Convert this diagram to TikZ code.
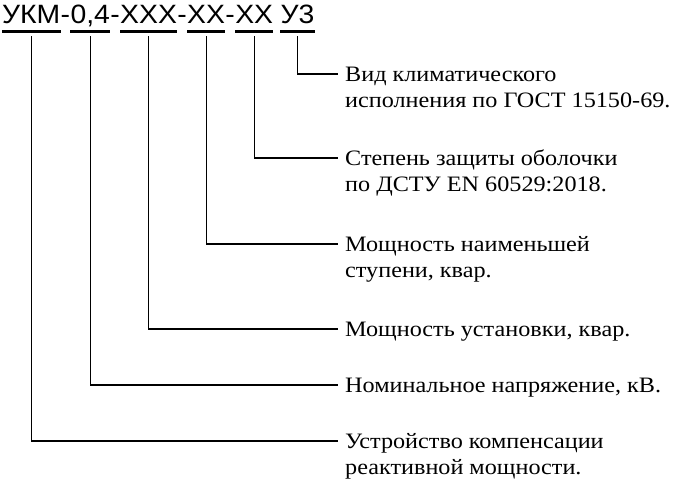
\documentclass[tikz,border=0pt]{standalone}
\usepackage{fontspec}
\setmainfont{Liberation Serif}
\newfontfamily\codefont[FakeStretch=1.07]{Liberation Sans}
\newfontfamily\descfont[FakeStretch=1.1]{Liberation Serif}
\usetikzlibrary{positioning}

\tikzset{
  part/.style={inner sep=0pt, text height=19bp, text depth=0pt, font=\codefont\fontsize{26.5bp}{30bp}\selectfont},
  uline/.style={line width=3bp},
  lead/.style={line width=1.1bp},
  desc/.style={inner ysep=0pt, inner xsep=7bp, text height=14.6bp, text depth=0pt, font=\descfont\fontsize{22bp}{26bp}\selectfont},
}

\begin{document}
\begin{tikzpicture}[x=1bp, y=1bp, node distance=11.4bp]
                \useasboundingbox (0,0) rectangle (685,488);

                \node[part, anchor=south west] (ukm) at (2,464.7) {УКМ};
                \node[part, right=0pt of ukm] (h1)   {-};
                \node[part, right=0pt of h1]  (nv)   {0,4};
                \node[part, right=0pt of nv]  (h2)   {-};
                \node[part, right=0pt of h2]  (qust) {ХХХ};
                \node[part, right=0pt of qust] (h3)  {-};
                \node[part, right=0pt of h3]  (qst)  {ХХ};
                \node[part, right=0pt of qst] (h4)   {-};
                \node[part, right=0pt of h4]  (ip)   {ХХ};
                \node[part, right=7bp of ip]  (klim) {У3};

                \draw[uline] ([yshift=-8bp]ukm.south west)  -- ([yshift=-8bp]ukm.south east);
                \draw[uline] ([yshift=-8bp]nv.south west)   -- ([yshift=-8bp]nv.south east);
                \draw[uline] ([yshift=-8bp]qust.south west) -- ([yshift=-8bp]qust.south east);
                \draw[uline] ([yshift=-8bp]qst.south west)  -- ([yshift=-8bp]qst.south east);
                \draw[uline] ([yshift=-8bp]ip.south west)   -- ([yshift=-8bp]ip.south east);
                \draw[uline] ([yshift=-8bp]klim.south west) -- ([yshift=-8bp]klim.south east);

                \node[desc, anchor=west] (vid) at (338,414) {Вид климатического};
                \node[desc, below=of vid.south west, anchor=north west] (vida) {исполнения по ГОСТ 15150-69.};
                \node[desc, anchor=west] (zash) at (338,330) {Степень защиты оболочки};
                \node[desc, below=of zash.south west, anchor=north west] (zasha) {по ДСТУ EN 60529:2018.};
                \node[desc, anchor=west] (stup) at (338,244) {Мощность наименьшей};
                \node[desc, below=of stup.south west, anchor=north west] (stupa) {ступени, квар.};
                \node[desc, anchor=west] (ust) at (338,159) {Мощность установки, квар.};
                \node[desc, anchor=west] (nom) at (338,103) {Номинальное напряжение, кВ.};
                \node[desc, anchor=west] (ukmd) at (338,47) {Устройство компенсации};
                \node[desc, below=of ukmd.south west, anchor=north west] (ukmda) {реактивной мощности.};

                \draw[lead] ([yshift=-13.2bp]klim.south) |- (vid.west);
                \draw[lead] ([yshift=-13.2bp]ip.south)   |- (zash.west);
                \draw[lead] ([yshift=-13.2bp]qst.south)  |- (stup.west);
                \draw[lead] ([yshift=-13.2bp]qust.south) |- (ust.west);
                \draw[lead] ([yshift=-13.2bp]nv.south)   |- (nom.west);
                \draw[lead] ([yshift=-13.2bp]ukm.south)  |- (ukmd.west);
            \end{tikzpicture}
\end{document}
